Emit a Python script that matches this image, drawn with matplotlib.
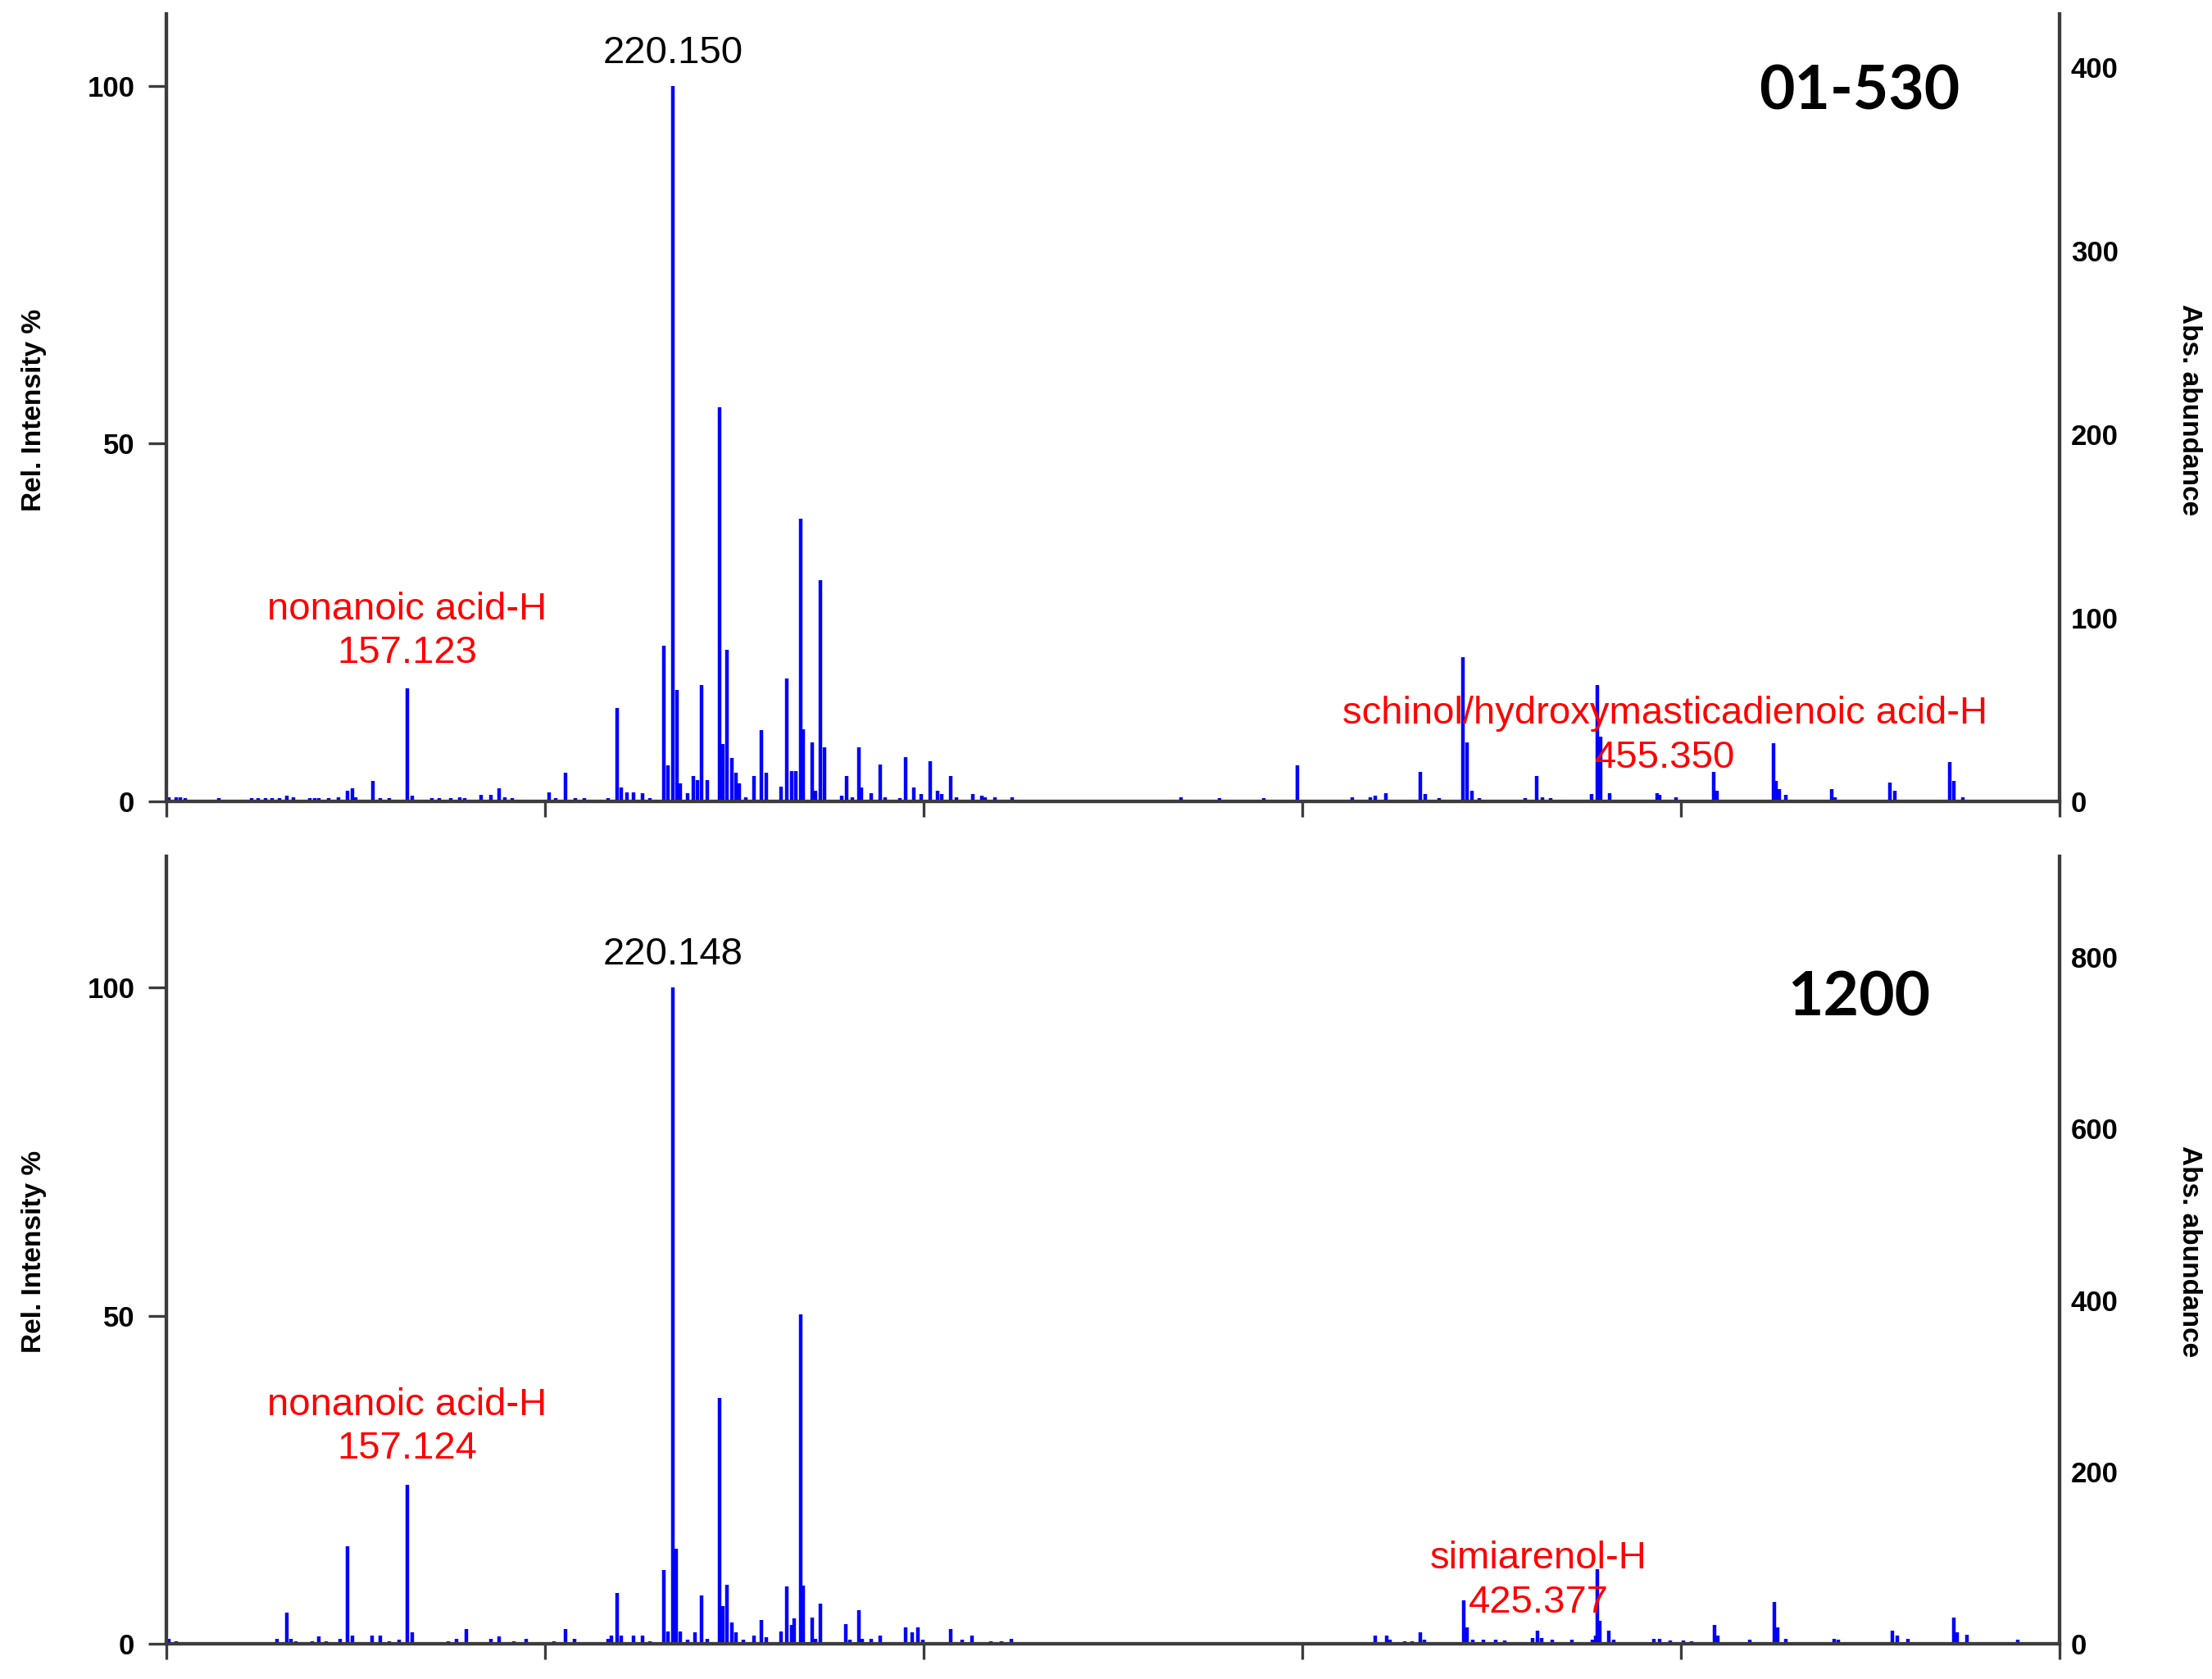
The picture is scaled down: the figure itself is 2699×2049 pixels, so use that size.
import matplotlib
matplotlib.use('Agg')
import matplotlib.pyplot as plt

plt.rcParams['font.family'] = ['Liberation Sans', 'DejaVu Sans']

# ---------------- data: sample 01-530 (top) ----------------
top_mz = [100.6, 102.2, 103.3, 104.5, 106.1, 108.4, 112.3, 116.7, 120.1, 121.7, 123.4, 125.1,
          126.7, 128.6, 130.1, 134.0, 135.1, 136.2, 138.4, 140.7, 142.9, 144.0, 144.8, 148.9,
          150.7, 152.9, 157.123, 158.3, 162.9, 164.6, 167.4, 169.6, 170.7, 174.6, 176.9, 178.9,
          180.2, 181.9, 183.6, 190.8, 192.2, 194.7, 196.9, 199.1, 204.7, 206.9, 207.8, 209.2,
          210.8, 212.8, 214.7,
          218.0, 219.0, 220.150, 221.0, 221.8, 223.5, 224.9, 225.9, 226.9, 228.2, 231.2, 231.9,
          232.9, 234.1, 235.0, 235.8, 237.3, 239.3, 241.0, 242.3, 245.7, 247.2, 248.2, 249.2,
          250.4, 251.0, 253.2, 253.9, 255.1, 256.1, 260.1, 261.3, 262.6, 264.3, 264.7, 267.2,
          269.2, 270.5, 273.9, 275.2, 277.2, 278.9, 281.1, 282.9, 283.9, 286.0, 287.3, 291.3,
          293.3,
          294.1, 296.5, 300.5, 340.6, 349.8, 360.2,
          368.2, 381.2, 385.5, 386.6, 389.3, 397.3, 398.5, 401.8, 407.5, 408.5, 409.6, 411.4,
          422.3, 424.9, 426.3, 428.3, 438.0, 439.3, 440.1, 442.2, 453.5, 454.2, 458.0, 467.0,
          467.7, 481.1, 481.8, 482.6, 484.0, 494.9, 495.7, 508.8, 509.9, 522.9, 523.9, 526.0]
top_rel = [0.6, 0.6, 0.6, 0.4, 0.2, 0.2, 0.4, 0.2, 0.4, 0.4, 0.4, 0.4,
           0.4, 0.8, 0.6, 0.5, 0.5, 0.5, 0.4, 0.6, 1.5, 1.8, 0.6, 2.9,
           0.4, 0.5, 15.8, 0.8, 0.4, 0.4, 0.4, 0.6, 0.4, 0.9, 0.9, 1.8,
           0.6, 0.4, 0.2, 1.3, 0.4, 4.0, 0.4, 0.4, 0.4, 13.0, 1.9, 1.3,
           1.3, 1.1, 0.4,
           21.8, 5.0, 100.0, 15.6, 2.5, 1.1, 3.6, 3.0, 16.3, 3.0, 55.1, 8.0,
           21.2, 6.1, 4.0, 2.5, 0.6, 3.6, 10.0, 4.0, 2.1, 17.2, 4.2, 4.2,
           39.5, 10.1, 8.2, 1.5, 30.9, 7.6, 0.8, 3.6, 0.6, 7.5, 1.9, 1.1,
           5.1, 0.6, 0.4, 6.2, 1.9, 1.0, 5.6, 1.5, 1.0, 3.5, 0.6, 1.0,
           0.8,
           0.6, 0.6, 0.6, 0.6, 0.4, 0.4,
           5.0, 0.6, 0.6, 0.8, 1.2, 4.1, 1.0, 0.5, 20.2, 8.2, 1.5, 0.5,
           0.5, 3.5, 0.6, 0.5, 1.0, 16.3, 9.0, 1.2, 1.2, 0.9, 0.6, 4.1,
           1.5, 8.1, 2.9, 1.7, 0.9, 1.7, 0.6, 2.6, 1.5, 5.5, 2.9, 0.6]

# ---------------- data: sample 1200 (bottom) ----------------
bot_mz = [100.6, 102.2, 105.6, 108.9, 112.3, 115.6, 118.9, 122.3, 126.2, 128.6, 129.5, 130.6,
          134.5, 136.2, 137.9, 141.2, 142.9, 144.0, 148.7, 150.7, 152.9, 155.1, 157.124, 158.2,
          162.9, 166.8, 168.8, 171.1, 174.6, 176.9, 178.9, 182.4, 185.2, 191.9, 194.7, 196.7,
          199.1, 204.7, 205.6, 206.9, 207.8, 210.8, 212.8, 214.7,
          218.0, 219.0, 220.148, 220.8, 221.8, 223.5, 225.4, 226.9, 228.2, 231.2, 231.9, 232.9,
          234.1, 235.0, 236.8, 239.3, 241.0, 242.3, 245.7, 247.2, 248.2, 248.9, 250.4, 251.0,
          253.2, 253.9, 255.1, 258.6, 261.1, 262.1, 264.3, 265.0, 267.2, 269.2, 273.0, 275.2,
          276.9, 278.2, 279.4, 286.0, 288.8, 291.0,
          295.5, 298.0, 300.3, 302.5, 308.2, 310.6, 360.2, 368.8, 380.7, 382.7, 386.6, 389.4,
          390.1, 393.6, 395.5, 397.3, 398.3, 401.5, 403.5, 407.7, 408.4, 409.9, 412.4, 415.3,
          417.3, 422.3, 424.0, 425.2, 426.2, 428.7, 433.4, 438.1, 438.9,
          439.3, 440.0, 442.1, 443.2, 452.7, 454.2, 456.7, 459.7, 461.7, 467.2, 468.0, 469.7,
          475.5, 481.4, 482.1, 484.1, 486.1, 493.4, 495.6, 496.6, 509.3, 510.5, 513.0, 521.5,
          524.0, 524.7, 527.0, 539.0]
bot_rel = [0.7, 0.4, 0.3, 0.3, 0.3, 0.3, 0.3, 0.3, 0.7, 4.75, 0.7, 0.4,
           0.4, 1.1, 0.4, 0.7, 14.8, 1.25, 1.25, 1.25, 0.4, 0.6, 24.2, 1.8,
           0.3, 0.4, 0.8, 2.25, 0.3, 0.8, 1.1, 0.4, 0.7, 0.4, 2.25, 0.7,
           0.3, 0.7, 1.25, 7.7, 1.25, 1.25, 1.25, 0.4,
           11.2, 1.9, 100.0, 14.5, 1.9, 0.6, 1.7, 7.4, 0.8, 37.5, 5.8, 9.0,
           3.3, 1.7, 0.6, 1.2, 3.6, 1.0, 1.9, 8.8, 2.9, 3.9, 50.2, 8.9,
           4.0, 0.8, 6.1, 0.3, 3.0, 0.6, 5.1, 0.8, 0.8, 1.3, 0.2, 2.5,
           1.7, 2.5, 0.6, 2.3, 0.6, 1.2,
           0.4, 0.4, 0.8, 0.3, 0.3, 0.3, 0.3, 0.3, 0.3, 0.3, 1.2, 1.2,
           0.6, 0.4, 0.4, 1.7, 0.6, 0.3, 0.3, 6.6, 2.5, 0.6, 0.6, 0.6,
           0.5, 0.3, 0.9, 2.0, 0.9, 0.6, 0.6, 0.6, 1.3,
           11.4, 3.5, 2.0, 0.6, 0.7, 0.7, 0.5, 0.5, 0.4, 2.9, 1.2, 0.3,
           0.6, 6.4, 2.5, 0.8, 0.3, 0.3, 0.75, 0.6, 2.0, 1.2, 0.7, 0.3,
           4.0, 1.7, 1.4, 0.6]

# axis scales
x_range = (100, 549)
x_ticks = [100, 189.8, 279.6, 369.4, 459.2, 549]
top_ymax, top_abs_per_pct = 110, 3.90
bot_ymax, bot_abs_per_pct = 120, 7.64
top_abs_ticks = [0, 100, 200, 300, 400]
bot_abs_ticks = [0, 200, 400, 600, 800]
rel_ticks = [0, 50, 100]

# annotations: (x, y, text, colour)
top_labels = [(220.150, 103.2, '220.150', 'black'),
              (157.123, 25.4, 'nonanoic acid-H', 'red'),
              (157.123, 19.3, '157.123', 'red'),
              (455.350, 10.9, 'schinol/hydroxymasticadienoic acid-H', 'red'),
              (455.350, 4.7, '455.350', 'red')]
bot_labels = [(220.148, 103.6, '220.148', 'black'),
              (157.124, 34.8, 'nonanoic acid-H', 'red'),
              (157.124, 28.2, '157.124', 'red'),
              (425.377, 11.5, 'simiarenol-H', 'red'),
              (425.377, 4.8, '425.377', 'red')]

spine_col = '#3c3c3c'

fig = plt.figure(figsize=(13.495, 10.245), dpi=200)
ax_top = fig.add_axes([0.0753, 0.5227, 0.8558, 0.4689])
ax_bot = fig.add_axes([0.0753, 0.0210, 0.8558, 0.4689])


def style(ax, mz, rel, ymax, apc, abs_ticks, labels, name, name_y):
    ax.vlines(mz, 0, rel, color='#0000FF', linewidth=1.6)
    ax.set_xlim(*x_range)
    ax.set_ylim(0, ymax)
    ax.set_xticks(x_ticks)
    ax.set_xticklabels([])
    ax.set_yticks(rel_ticks)
    ax.set_yticklabels([str(t) for t in rel_ticks], fontweight='bold', fontsize=12.5)
    ax.tick_params(axis='x', direction='out', length=7, width=1.2, color=spine_col)
    ax.tick_params(axis='y', direction='out', length=8, width=1.2, color=spine_col, pad=6)
    ax.spines['top'].set_visible(False)
    for s in ('left', 'right', 'bottom'):
        ax.spines[s].set_color(spine_col)
        ax.spines[s].set_linewidth(1.5)
    ax2 = ax.twinx()
    ax2.set_ylim(0, ymax * apc)
    ax2.set_yticks(abs_ticks)
    ax2.set_yticklabels([str(t) for t in abs_ticks], fontweight='bold', fontsize=12.5)
    ax2.tick_params(axis='y', length=0, pad=5)
    ax2.spines['top'].set_visible(False)
    for s in ('left', 'right', 'bottom'):
        ax2.spines[s].set_color(spine_col)
        ax2.spines[s].set_linewidth(1.5)
    for x, y, t, c in labels:
        ax.text(x, y, t, color=c, fontsize=17, ha='center', va='baseline', zorder=5)
    ax.text(501.5, name_y, name, fontfamily=['Lato', 'DejaVu Sans'], fontweight='bold',
            fontsize=27, ha='center', va='baseline')


style(ax_top, top_mz, top_rel, top_ymax, top_abs_per_pct, top_abs_ticks, top_labels, '01-530', 96.7)
style(ax_bot, bot_mz, bot_rel, bot_ymax, bot_abs_per_pct, bot_abs_ticks, bot_labels, '1200', 95.7)

for yc in (0.756, 0.2546):
    fig.text(0.0153, yc, 'Rel. Intensity %', rotation=90, ha='center', va='center',
             fontweight='bold', fontsize=12)
    fig.text(0.9898, yc, 'Abs. abundance', rotation=270, ha='center', va='center',
             fontweight='bold', fontsize=12)

fig.savefig('out.png', dpi=200)
